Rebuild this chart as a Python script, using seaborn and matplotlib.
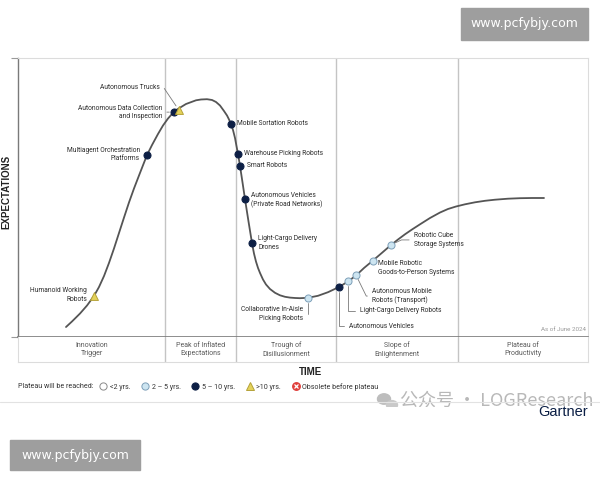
import matplotlib
matplotlib.use('Agg')
import matplotlib.pyplot as plt
import seaborn as sns
import pandas as pd
from matplotlib import font_manager
from matplotlib.lines import Line2D
from matplotlib.patches import Rectangle, Circle

# hype curve (time %, expectations %)
curve_x = [8.42, 9.47, 10.88, 12.11, 13.33, 14.21, 15.09, 15.96, 16.84, 17.72,
           18.60, 19.47, 20.35, 21.23, 22.11, 22.63, 23.51, 24.56, 25.44, 26.32,
           27.02, 27.89, 29.47, 31.23, 32.11, 33.16, 34.04, 34.74, 35.44, 36.14,
           36.67, 37.02, 37.37, 37.72, 38.07, 38.33, 38.60, 38.95, 39.39, 39.82,
           40.44, 41.05, 41.40, 41.75, 42.11, 42.46, 42.98, 43.51, 44.21, 45.09,
           45.96, 46.84, 47.72, 48.60, 49.47, 50.88, 52.63, 54.39, 56.32, 57.89,
           59.30, 60.70, 62.28, 63.86, 65.44, 66.67, 67.89, 69.12, 70.53, 72.28,
           74.04, 75.44, 76.84, 78.42, 80.18, 81.93, 83.68, 85.96, 88.07, 90.18,
           92.28]
curve_y = [3.58, 5.56, 8.42, 11.29, 14.70, 17.92, 21.86, 26.52, 31.72, 37.28,
           42.83, 48.21, 53.23, 57.89, 62.50, 65.20, 68.80, 72.76, 75.81, 78.32,
           79.93, 81.54, 83.51, 84.84, 85.13, 85.23, 84.95, 84.23, 82.97, 81.00,
           79.39, 77.96, 76.34, 74.19, 71.33, 68.46, 65.59, 61.29, 55.38, 49.46,
           41.40, 33.69, 29.93, 27.06, 24.73, 22.94, 20.61, 18.82, 17.20, 15.84,
           14.95, 14.41, 14.12, 13.98, 13.91, 14.05, 14.77, 16.06, 17.92, 19.89,
           22.04, 24.73, 27.42, 30.18, 32.97, 34.95, 36.81, 38.53, 40.39, 42.65,
           44.62, 45.88, 46.77, 47.56, 48.28, 48.82, 49.21, 49.57, 49.75, 49.82,
           49.82]

tech_names = [
    'Humanoid Working\nRobots',
    'Multiagent Orchestration\nPlatforms',
    'Autonomous Data Collection\nand Inspection',
    'Autonomous Trucks',
    'Mobile Sortation Robots',
    'Warehouse Picking Robots',
    'Smart Robots',
    'Autonomous Vehicles\n(Private Road Networks)',
    'Light-Cargo Delivery\nDrones',
    'Collaborative In-Aisle\nPicking Robots',
    'Autonomous Vehicles',
    'Light-Cargo Delivery Robots',
    'Autonomous Mobile\nRobots (Transport)',
    'Mobile Robotic\nGoods-to-Person Systems',
    'Robotic Cube\nStorage Systems',
]
tech_x = [13.3, 22.6, 27.4, 28.2, 37.4, 38.6, 38.9, 39.8, 41.1, 50.9, 56.3, 57.9, 59.3, 62.3, 65.4]
tech_y = [14.7, 65.3, 80.6, 81.4, 76.5, 65.6, 61.3, 49.5, 33.7, 14.0, 17.9, 20.1, 22.2, 27.2, 33.0]
tech_plateau = ['>10 yrs.', '5 – 10 yrs.', '5 – 10 yrs.', '>10 yrs.', '5 – 10 yrs.',
                '5 – 10 yrs.', '5 – 10 yrs.', '5 – 10 yrs.', '5 – 10 yrs.', '2 – 5 yrs.',
                '5 – 10 yrs.', '2 – 5 yrs.', '2 – 5 yrs.', '2 – 5 yrs.', '2 – 5 yrs.']

phase_names = ['Innovation\nTrigger', 'Peak of Inflated\nExpectations', 'Trough of\nDisillusionment',
               'Slope of\nEnlightenment', 'Plateau of\nProductivity']
phase_edges = [0, 25.8, 38.2, 55.8, 77.2, 100]

plateau_levels = ['<2 yrs.', '2 – 5 yrs.', '5 – 10 yrs.', '>10 yrs.', 'Obsolete before plateau']

# marker style per plateau class
marker_style = {
    '<2 yrs.': dict(marker='o', face='white', edge='#8a8a8a', s=26),
    '2 – 5 yrs.': dict(marker='o', face='#cde5f1', edge='#7d9fb8', s=26),
    '5 – 10 yrs.': dict(marker='o', face='#0d1f45', edge='#0d1f45', s=26),
    '>10 yrs.': dict(marker='^', face='#e4d25a', edge='#b5a23a', s=32),
}

# label placement: offset in pixels, alignment, leader connection
label_layout = [
    (-7, 1, 'right', None),
    (-7, 0, 'right', None),
    (-12, 0, 'right', 'arc3'),
    (-19, 22, 'right', 'angle,angleA=0,angleB=-56,rad=0'),
    (6, 0, 'left', None),
    (6, 0, 'left', None),
    (7, 0, 'left', None),
    (6, -1, 'left', None),
    (6, 0, 'left', None),
    (-5, -16, 'right', 'angle,angleA=0,angleB=90,rad=0'),
    (10, -39, 'left', 'angle,angleA=0,angleB=90,rad=0'),
    (12, -30, 'left', 'angle,angleA=0,angleB=90,rad=0'),
    (16, -21, 'left', 'angle,angleA=0,angleB=-64,rad=0'),
    (5, -7, 'left', None),
    (23, 5, 'left', 'angle,angleA=0,angleB=25,rad=0'),
]

sns.set_theme(style='white')
names = font_manager.get_font_names()
body_font = 'Liberation Sans Narrow' if 'Liberation Sans Narrow' in names else 'Roboto'
plt.rcParams['font.family'] = [body_font, 'DejaVu Sans']
fs = 5.4 if body_font == 'Liberation Sans Narrow' else 4.8

W, H = 600, 480
fig = plt.figure(figsize=(6, 4.8), dpi=100)
fig.patch.set_facecolor('white')

def fx(px):
    return px / W

def fy(py):
    return 1 - py / H

ax = fig.add_axes([fx(18), fy(337), fx(570), 279 / H])
ax.set_xlim(0, 100)
ax.set_ylim(0, 100)

for e in phase_edges[1:-1]:
    ax.axvline(e, color='#c4c4c4', lw=1, zorder=1)

curve = pd.DataFrame({'time': curve_x, 'expectations': curve_y})
sns.lineplot(data=curve, x='time', y='expectations', sort=False, color='#555555',
             lw=1.3, ax=ax, zorder=2)

df = pd.DataFrame({'name': tech_names, 'x': tech_x, 'y': tech_y, 'plateau': tech_plateau})
for lvl, st in marker_style.items():
    sub = df[df['plateau'] == lvl]
    if len(sub) == 0:
        continue
    sns.scatterplot(data=sub, x='x', y='y', marker=st['marker'], color=st['face'],
                    edgecolor=st['edge'], linewidth=0.7, s=st['s'], ax=ax, zorder=4,
                    legend=False)

for (nm, x, y), (dx, dy, ha, leader) in zip(zip(tech_names, tech_x, tech_y), label_layout):
    kw = {}
    if leader:
        kw['arrowprops'] = dict(arrowstyle='-', color='#7a7a7a', lw=0.6, shrinkA=1,
                                shrinkB=3.5, connectionstyle=leader)
    ax.annotate(nm, xy=(x, y), xytext=(dx, dy), textcoords='offset pixels',
                ha=ha, va='center', fontsize=fs, color='#2b2b2b', linespacing=1.25,
                zorder=5, **kw)

ax.text(99.6, 1.8, 'As of June 2024', ha='right', va='bottom', fontsize=fs - 0.3, color='#9a9a9a')

ax.set_xticks([])
ax.set_yticks([0, 100])
ax.set_yticklabels([])
ax.tick_params(axis='y', direction='out', length=5, width=0.8, color='#9a9a9a', left=True, pad=0)
ax.set_xlabel('')
ax.set_ylabel('EXPECTATIONS', fontsize=7, fontweight='bold', color='#222222',
              family=['Liberation Sans', 'DejaVu Sans'])
ax.yaxis.set_label_coords(-0.011, 0.52)
for side in ['top', 'right']:
    ax.spines[side].set_color('#dcdcdc')
    ax.spines[side].set_linewidth(0.8)
ax.spines['left'].set_color('#7a7a7a')
ax.spines['bottom'].set_color('#7a7a7a')
ax.spines['left'].set_linewidth(1.0)
ax.spines['bottom'].set_linewidth(1.2)

# phase band under the curve
band = fig.add_axes([fx(18), fy(362), fx(570), 25 / H])
band.set_xlim(0, 100)
band.set_ylim(0, 1)
band.set_xticks([])
band.set_yticks([])
for e in phase_edges[1:-1]:
    band.axvline(e, color='#c4c4c4', lw=1)
for name, a, b in zip(phase_names, phase_edges[:-1], phase_edges[1:]):
    band.text((a + b) / 2, 0.5, name, ha='center', va='center', fontsize=fs + 0.2,
              color='#5a5a5a', linespacing=1.25)
for side in ['left', 'right', 'bottom']:
    band.spines[side].set_color('#dcdcdc')
    band.spines[side].set_linewidth(0.8)
band.spines['top'].set_visible(False)

fig.text(fx(310), fy(372), 'TIME', ha='center', va='center', fontsize=7, fontweight='bold',
         color='#222222', family=['Liberation Sans', 'DejaVu Sans'])

# legend row
fig.text(fx(18), fy(387), 'Plateau will be reached:', ha='left', va='center', fontsize=fs + 0.3,
         color='#333333')
handles = []
for lvl in plateau_levels[:4]:
    st = marker_style[lvl]
    handles.append(Line2D([], [], ls='none', marker=st['marker'], markerfacecolor=st['face'],
                          markeredgecolor=st['edge'], markeredgewidth=0.7,
                          markersize=5.2 if st['marker'] == 'o' else 5.8))
handles.append((Line2D([], [], ls='none', marker='o', markerfacecolor='#e0403c',
                       markeredgecolor='#e0403c', markersize=5.4),
                Line2D([], [], ls='none', marker='x', markeredgecolor='white',
                       markeredgewidth=0.9, markersize=3)))
fig.legend(handles, plateau_levels, loc='center left', bbox_to_anchor=(fx(100), fy(387)),
           ncol=5, frameon=False, fontsize=fs + 0.3, handlelength=0.9, handletextpad=0.5,
           columnspacing=1.6, borderaxespad=0, borderpad=0, labelcolor='#333333')

# footer: watermark (cut by the white band), rule, logo
fig.text(fx(400), fy(392), '公众号 · LOGResearch', ha='left', va='top', fontsize=13,
         color='#b8b8b8', family=['Noto Sans CJK SC', 'DejaVu Sans'], zorder=1)
fig.patches.append(Circle((fx(384), fy(399)), 6.5 / W, transform=fig.transFigure,
                          color='#bdbdbd', zorder=1))
fig.patches.append(Circle((fx(392), fy(405)), 5.5 / W, transform=fig.transFigure,
                          color='#c9c9c9', zorder=1))
fig.patches.append(Rectangle((0, 0), 1, fy(407), transform=fig.transFigure,
                             facecolor='white', edgecolor='none', zorder=2))
fig.add_artist(Line2D([0, 1], [fy(402), fy(402)], color='#e2e2e2', lw=0.8,
                      transform=fig.transFigure, zorder=3))
fig.text(fx(588), fy(412), 'Gartner', ha='right', va='center', fontsize=10.5,
         color='#0b1f45', family=['Liberation Sans', 'DejaVu Sans'], zorder=4)

# site stamps
fig.patches.append(Rectangle((fx(461), fy(40)), fx(127), 32 / H, transform=fig.transFigure,
                             color='#9e9e9e', zorder=4))
fig.text(fx(524), fy(24), 'www.pcfybjy.com', ha='center', va='center', fontsize=9,
         color='white', family=['DejaVu Sans'], zorder=5)
fig.patches.append(Rectangle((fx(10), fy(470)), fx(130), 30 / H, transform=fig.transFigure,
                             color='#9e9e9e', zorder=4))
fig.text(fx(75), fy(455), 'www.pcfybjy.com', ha='center', va='center', fontsize=9,
         color='white', family=['DejaVu Sans'], zorder=5)

fig.savefig('out.png', dpi=100)
